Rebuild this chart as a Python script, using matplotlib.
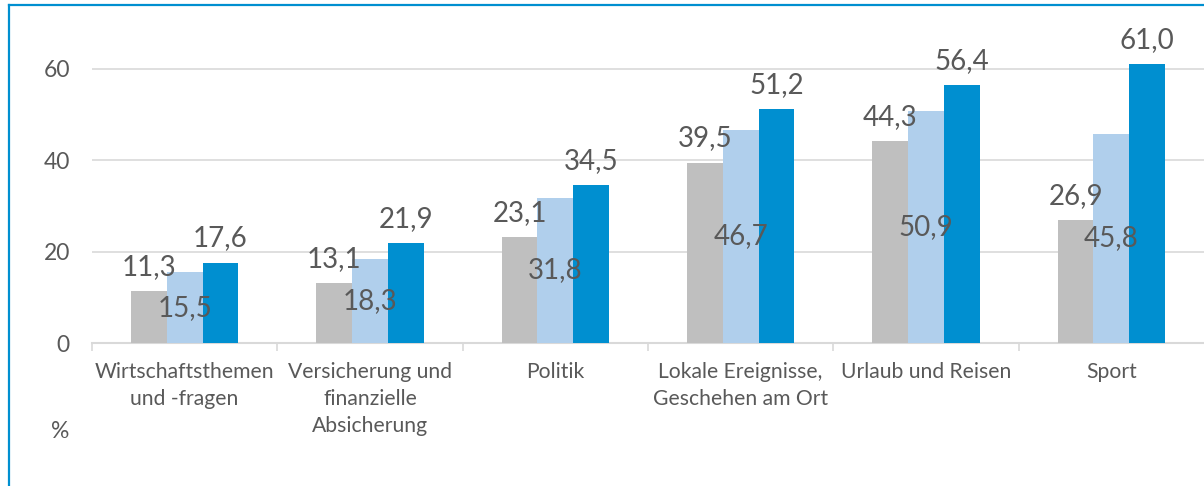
import matplotlib
matplotlib.use("Agg")
import matplotlib.pyplot as plt
import numpy as np
from matplotlib.lines import Line2D
from matplotlib.ticker import FixedLocator

plt.rcParams.update({
    "font.family": ["Lato", "DejaVu Sans"],
    "axes.unicode_minus": False,
})

categories = [
    "Wirtschaftsthemen\nund -fragen",
    "Versicherung und\nfinanzielle\nAbsicherung",
    "Politik",
    "Lokale Ereignisse,\nGeschehen am Ort",
    "Urlaub und Reisen",
    "Sport",
]
grey_vals = [11.3, 13.1, 23.1, 39.5, 44.3, 26.9]
light_vals = [15.5, 18.3, 31.8, 46.7, 50.9, 45.8]
blue_vals = [17.6, 21.9, 34.5, 51.2, 56.4, 61.0]
y_ticks = [0, 20, 40, 60]

GREY = "#BFBFBF"
LIGHT = "#B0CFEC"
BLUE = "#008FD0"
TEXT = "#595959"
GRID = "#D9D9D9"


def fmt(v):
    return f"{v:.1f}".replace(".", ",")


fig = plt.figure(figsize=(12.04, 4.86), dpi=100)
ax = fig.add_axes([92 / 1204, 143 / 486, 1 - 92 / 1204, 319.7 / 486])

x = np.arange(len(categories))
w = 0.193

b_grey = ax.bar(x - w, grey_vals, w, color=GREY, zorder=3)
b_light = ax.bar(x, light_vals, w, color=LIGHT, zorder=3)
b_blue = ax.bar(x + w, blue_vals, w, color=BLUE, zorder=3)

# grey and dark blue labels sit above the bar, light blue label in the middle
for bars, vals in [(b_grey, grey_vals), (b_blue, blue_vals)]:
    for rect, v in zip(bars, vals):
        ax.annotate(fmt(v), (rect.get_x() + rect.get_width() / 2, v),
                    xytext=(0, 8), textcoords="offset points",
                    ha="center", va="bottom", fontsize=20, color=TEXT, zorder=4)
for rect, v in zip(b_light, light_vals):
    ax.text(rect.get_x() + rect.get_width() / 2, v / 2, fmt(v),
            ha="center", va="center", fontsize=20, color=TEXT, zorder=4)

ax.set_xlim(-0.5, len(categories) - 0.5)
ax.set_ylim(0, 70)
ax.set_yticks(y_ticks)
ax.set_yticklabels([str(t) for t in y_ticks])
ax.tick_params(axis="y", length=0, pad=16, labelsize=16.5, labelcolor=TEXT)
ax.grid(axis="y", color=GRID, linewidth=1.2, zorder=0)

# boundary ticks below the axis, category names on minor ticks
ax.xaxis.set_major_locator(FixedLocator(np.arange(len(categories)) - 0.5))
ax.set_xticklabels([])
ax.xaxis.set_minor_locator(FixedLocator(x))
ax.set_xticklabels(categories, minor=True)
ax.tick_params(axis="x", which="major", length=6, color=GRID, width=1.2)
ax.tick_params(axis="x", which="minor", length=0, pad=14, labelsize=15.2, labelcolor=TEXT)
for lab in ax.get_xticklabels(minor=True):
    lab.set_linespacing(1.42)

for side in ["top", "right", "left"]:
    ax.spines[side].set_visible(False)
ax.spines["bottom"].set_color(GRID)
ax.spines["bottom"].set_linewidth(1.5)

fig.text(60 / 1204, 1 - 432 / 486, "%", ha="center", va="center", fontsize=16.5, color=TEXT)

# blue frame along top and left
fig.add_artist(Line2D([8.5 / 1204, 1], [1 - 5.5 / 486, 1 - 5.5 / 486], color=BLUE, linewidth=1.6))
fig.add_artist(Line2D([8.5 / 1204, 8.5 / 1204], [0, 1 - 5.5 / 486], color=BLUE, linewidth=1.6))

fig.savefig("out.png", dpi=100)
